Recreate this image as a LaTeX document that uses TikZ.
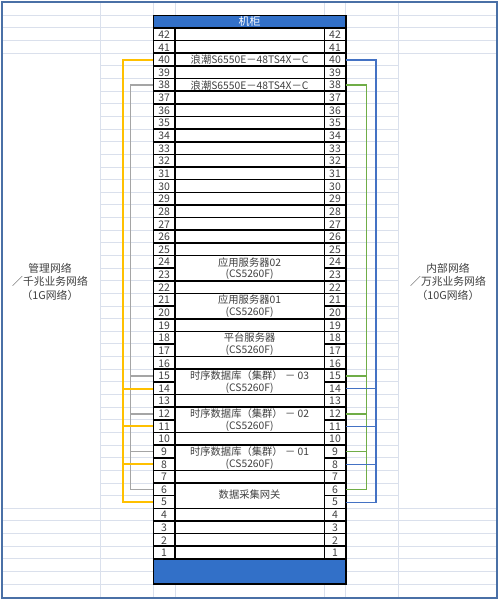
\documentclass[tikz,border=0pt]{standalone}
\usepackage{fontspec}
\setmainfont{Noto Sans CJK SC}
\definecolor{gridc}{RGB}{218,224,236}
\definecolor{framec}{RGB}{74,112,166}
\definecolor{rackblue}{RGB}{50,112,200}
\definecolor{ycab}{RGB}{255,192,0}
\definecolor{gcab}{RGB}{165,165,165}
\definecolor{gncab}{RGB}{112,173,71}
\definecolor{bcab}{RGB}{68,114,196}
\definecolor{txt}{RGB}{64,64,64}
\begin{document}
\begin{tikzpicture}[x=1pt,y=-1pt,
  gridline/.style={draw=gridc,line width=1pt},
  rackline/.style={draw=black,line width=1.6pt},
  num/.style={inner sep=0pt,text=txt,font=\fontsize{10.5}{12}\selectfont},
  lbl/.style={inner sep=0pt,text=txt,font=\fontsize{10.3}{12}\selectfont},
  side/.style={inner sep=0pt,text=txt,align=center,font=\fontsize{10.8}{13.5}\selectfont},
  ycable/.style={draw=ycab,line width=2pt},
  gycable/.style={draw=gcab,line width=1.5pt},
  gncable/.style={draw=gncab,line width=1.5pt},
  bcable/.style={draw=bcab,line width=1.5pt}]
\useasboundingbox (0,0) rectangle (498,600);
\fill[white] (0,0) rectangle (498,600);
% spreadsheet grid
\foreach \k in {1,...,46}{
  \pgfmathsetmacro\yy{2.7+\k*12.64}
  \ifnum\k>4 \ifnum\k<40
    \draw[gridline] (100,\yy) -- (398,\yy);
  \else
    \draw[gridline] (2,\yy) -- (496,\yy);
  \fi\else
    \draw[gridline] (2,\yy) -- (496,\yy);
  \fi
}
\foreach \xx in {100,153.3,175,324.3,345.7,398}{
  \draw[gridline] (\xx,2.7) -- (\xx,597);
}
% frame
\draw[framec,line width=2pt] (1.5,1.5) rectangle (496.5,597.5);
% rack body
\fill[white] (153.3,28) rectangle (345.7,558.9);
\fill[rackblue] (153.3,15.3) rectangle (345.7,28);
\fill[rackblue] (153.3,558.9) rectangle (345.7,584.1);
\node[inner sep=0pt,text=white,font=\fontsize{11}{12}\selectfont] (title) at (249.5,21.7) {机柜};
\foreach \k in {2,...,44}{
  \pgfmathsetmacro\yy{2.7+\k*12.64}
  \draw[rackline] (153.3,\yy) -- (175,\yy);
  \draw[rackline] (324.3,\yy) -- (345.7,\yy);
  \ifnum\k=21 \else\ifnum\k=24 \else\ifnum\k=27 \else\ifnum\k=30 \else\ifnum\k=33 \else\ifnum\k=36 \else\ifnum\k=39 \else
    \draw[rackline] (175,\yy) -- (324.3,\yy);
  \fi\fi\fi\fi\fi\fi\fi
}
\draw[rackline] (175,28) -- (175,558.9);
\draw[rackline] (324.3,28) -- (324.3,558.9);
\draw[rackline] (153.3,15.3) rectangle (345.7,584.1);
% row numbers and attachment points
\foreach \n in {1,...,42}{
  \pgfmathsetmacro\yc{28.3+(42-\n+0.5)*12.64}
  \node[num] (nl\n) at (164.15,\yc) {\n};
  \node[num] (nr\n) at (335,\yc) {\n};
  \coordinate (L\n) at (153.3,\yc);
  \coordinate (R\n) at (345.7,\yc);
}
\coordinate (mid) at (249.6,0);
% device labels
\node[lbl] (sw1) at (mid|-L40) {浪潮S6550E－48TS4X－C};
\node[lbl] (sw2) at (mid|-L38) {浪潮S6550E－48TS4X－C};
\node[lbl] (app2a) at (mid|-L24) {应用服务器02};
\node[lbl] (app2b) at (mid|-L23) {(CS5260F)};
\node[lbl] (app1a) at (mid|-L21) {应用服务器01};
\node[lbl] (app1b) at (mid|-L20) {(CS5260F)};
\node[lbl] (plata) at (mid|-L18) {平台服务器};
\node[lbl] (platb) at (mid|-L17) {(CS5260F)};
\node[lbl] (db3a) at (mid|-L15) {时序数据库（集群） － 03};
\node[lbl] (db3b) at (mid|-L14) {(CS5260F)};
\node[lbl] (db2a) at (mid|-L12) {时序数据库（集群） － 02};
\node[lbl] (db2b) at (mid|-L11) {(CS5260F)};
\node[lbl] (db1a) at (mid|-L9) {时序数据库（集群） － 01};
\node[lbl] (db1b) at (mid|-L8) {(CS5260F)};
\coordinate (gwc) at (249.6,494.7);
\node[lbl] (gw) at (gwc) {数据采集网关};
% side labels
\node[side] (mgmt) at (50,281.5) {管理网络\\／千兆业务网络\\（1G网络）};
\node[side] (inner) at (448,281.5) {内部网络\\／万兆业务网络\\（10G网络）};
% buses
\coordinate (ybus) at (122.7,0);
\coordinate (gbus) at (130.7,0);
\coordinate (gnbus) at (366.7,0);
\coordinate (bbus) at (376,0);
% gray (left, inner)
\draw[gycable] (L38) -- (L38-|gbus) -- (L6-|gbus) -- (L6);
\foreach \r in {15,12,9}{\draw[gycable] (L\r-|gbus) -- (L\r);}
% yellow (left, outer)
\draw[ycable] (L40) -- (L40-|ybus) -- (L5-|ybus) -- (L5);
\foreach \r in {14,11,8}{\draw[ycable] (L\r-|ybus) -- (L\r);}
% green (right, inner)
\draw[gncable] (R38) -- (R38-|gnbus) -- (R6-|gnbus) -- (R6);
\foreach \r in {15,12,9}{\draw[gncable] (R\r-|gnbus) -- (R\r);}
% blue (right, outer)
\draw[bcable] (R40) -- (R40-|bbus) -- (R5-|bbus) -- (R5);
\foreach \r in {14,11,8}{\draw[bcable] (R\r-|bbus) -- (R\r);}
\end{tikzpicture}
\end{document}
